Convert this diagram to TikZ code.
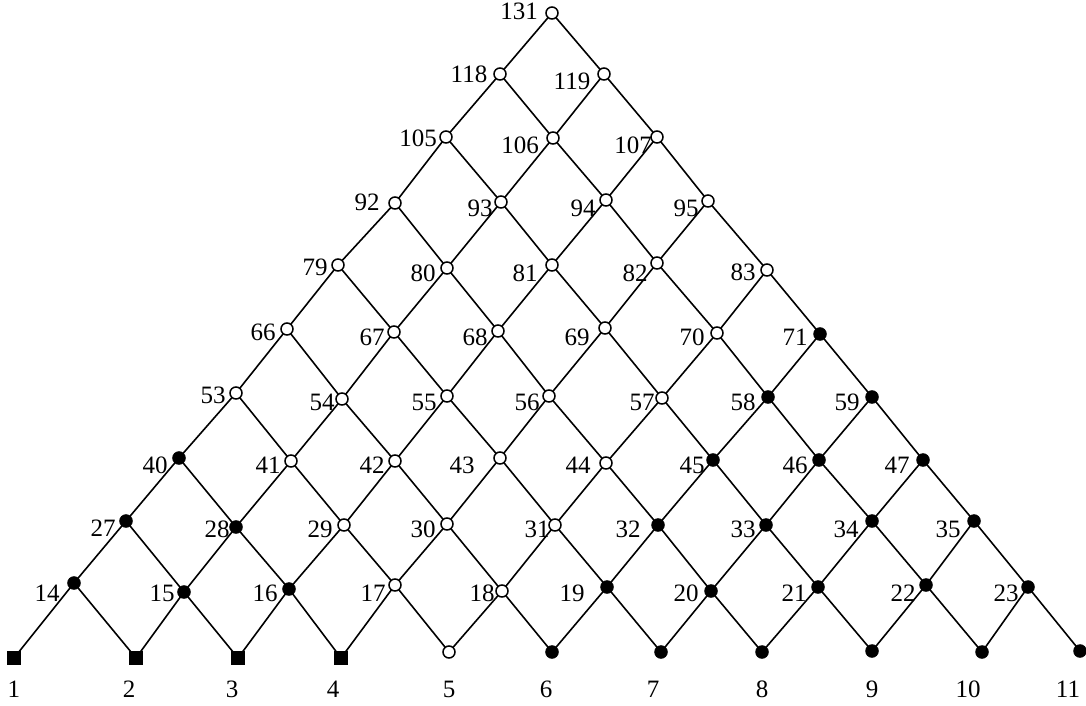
\documentclass[tikz,border=0pt]{standalone}
\usepackage{fontspec}
\setmainfont{Liberation Serif}
\pgfdeclarelayer{bg}
\pgfsetlayers{bg,main}
\begin{document}
\begin{tikzpicture}[x=1pt,y=-1pt,
  edge/.style={line width=1.6pt,black},
  sq/.style={draw=none,fill=black,minimum size=13.5pt,inner sep=0pt,shape=rectangle},
  fc/.style={circle,fill=black,draw=black,line width=1pt,minimum size=12.5pt,inner sep=0pt},
  oc/.style={circle,fill=white,draw=black,line width=1.5pt,minimum size=12pt,inner sep=0pt},
  lab/.style={inner sep=0pt,font=\fontsize{25}{29}\selectfont}]
\useasboundingbox (0,0) rectangle (1086,706);
% row 1
\node[sq] (n1) at (14,658) {};
\node[sq] (n2) at (136,658) {};
\node[sq] (n3) at (238,658) {};
\node[sq] (n4) at (341,658) {};
\node[oc] (n5) at (449,652) {};
\node[fc] (n6) at (552,652) {};
\node[fc] (n7) at (661,652) {};
\node[fc] (n8) at (762,652) {};
\node[fc] (n9) at (872,651) {};
\node[fc] (n10) at (982,652) {};
\node[fc] (n11) at (1080,651) {};
% row 2
\node[fc] (n14) at (74,583) {};
\node[fc] (n15) at (184,592) {};
\node[fc] (n16) at (289,589) {};
\node[oc] (n17) at (395,585) {};
\node[oc] (n18) at (502,591) {};
\node[fc] (n19) at (607,587) {};
\node[fc] (n20) at (711,591) {};
\node[fc] (n21) at (818,587) {};
\node[fc] (n22) at (926,585) {};
\node[fc] (n23) at (1028,587) {};
% row 3
\node[fc] (n27) at (126,521) {};
\node[fc] (n28) at (236,527) {};
\node[oc] (n29) at (344,525) {};
\node[oc] (n30) at (447,524) {};
\node[oc] (n31) at (555,525) {};
\node[fc] (n32) at (658,525) {};
\node[fc] (n33) at (766,525) {};
\node[fc] (n34) at (872,521) {};
\node[fc] (n35) at (974,521) {};
% row 4
\node[fc] (n40) at (179,458) {};
\node[oc] (n41) at (291,461) {};
\node[oc] (n42) at (395,461) {};
\node[oc] (n43) at (500,458) {};
\node[oc] (n44) at (606,463) {};
\node[fc] (n45) at (713,460) {};
\node[fc] (n46) at (819,460) {};
\node[fc] (n47) at (923,460) {};
% row 5
\node[oc] (n53) at (236,393) {};
\node[oc] (n54) at (342,399) {};
\node[oc] (n55) at (447,396) {};
\node[oc] (n56) at (549,396) {};
\node[oc] (n57) at (662,398) {};
\node[fc] (n58) at (768,397) {};
\node[fc] (n59) at (872,397) {};
% row 6
\node[oc] (n66) at (287,329) {};
\node[oc] (n67) at (394,332) {};
\node[oc] (n68) at (498,331) {};
\node[oc] (n69) at (605,328) {};
\node[oc] (n70) at (717,333) {};
\node[fc] (n71) at (820,334) {};
% row 7
\node[oc] (n79) at (338,265) {};
\node[oc] (n80) at (447,268) {};
\node[oc] (n81) at (552,265) {};
\node[oc] (n82) at (657,263) {};
\node[oc] (n83) at (767,270) {};
% row 8
\node[oc] (n92) at (395,203) {};
\node[oc] (n93) at (501,202) {};
\node[oc] (n94) at (606,200) {};
\node[oc] (n95) at (708,201) {};
% row 9
\node[oc] (n105) at (446,137) {};
\node[oc] (n106) at (553,138) {};
\node[oc] (n107) at (657,137) {};
% row 10
\node[oc] (n118) at (500,74) {};
\node[oc] (n119) at (604,74) {};
% row 11
\node[oc] (n131) at (552,13) {};
% edges
\begin{pgfonlayer}{bg}
\foreach \r in {2,...,11}{
  \pgfmathtruncatemacro{\cnt}{11-\r}
  \foreach \i in {0,...,\cnt}{
    \pgfmathtruncatemacro{\a}{1+13*(\r-1)+\i}
    \pgfmathtruncatemacro{\b}{1+13*(\r-2)+\i}
    \pgfmathtruncatemacro{\c}{\b+1}
    \draw[edge] (n\a.center) -- (n\b.center) (n\a.center) -- (n\c.center);
  }
}
\end{pgfonlayer}
% labels
\foreach \t/\x/\y in {1/14/689,2/129/689,3/232/689,4/333/689,5/449/689,6/546/689,7/653/689,8/762/689,9/872/689,10/968/689,11/1068/689,
  14/47/593,15/162/593,16/265/593,17/373/593,18/482/593,19/572/593,20/686/593,21/794/593,22/903/593,23/1006/593,
  27/103/528,28/217/529,29/320/529,30/423/529,31/537/529,32/628/529,33/743/529,34/846/529,35/948/529,
  40/155/465,41/268/465,42/372/465,43/462/465,44/578/465,45/692/465,46/795/465,47/897/465,
  53/213/395,54/322/402,55/424/402,56/527/402,57/642/402,58/743/402,59/847/402,
  66/263/332,67/372/337,68/475/337,69/577/337,70/692/337,71/795/337,
  79/315/267,80/423/273,81/525/273,82/635/273,83/743/272,
  92/367/202,93/480/208,94/583/208,95/686/208,
  105/418/138,106/520/145,107/633/145,
  118/469/74,119/572/81,
  131/519/11}{
  \node[lab] (l\t) at (\x,\y) {\t};
}
\end{tikzpicture}
\end{document}
